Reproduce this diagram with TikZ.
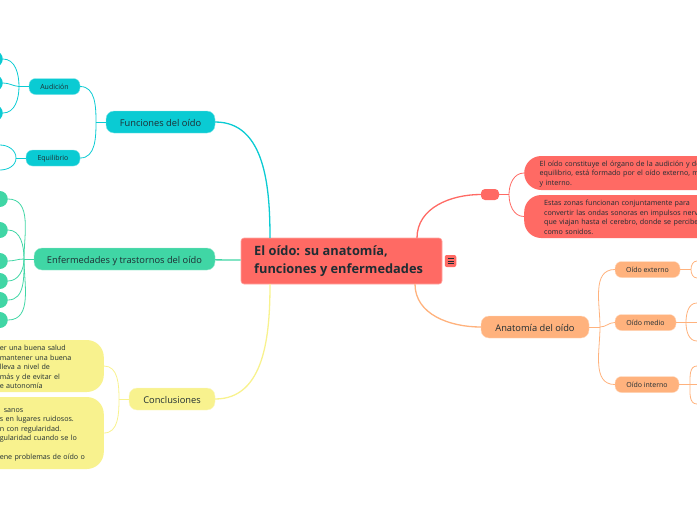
\documentclass[tikz,border=0pt]{standalone}
\usepackage{fontspec}
\setmainfont{Open Sans}
\definecolor{inkc}{HTML}{1F2D33}
\definecolor{redc}{HTML}{FF6A64}
\definecolor{tealc}{HTML}{0ACBD3}
\definecolor{mintc}{HTML}{40D6A5}
\definecolor{yelc}{HTML}{F8F28E}
\definecolor{orac}{HTML}{FFB27D}
\begin{document}
\begin{tikzpicture}[x=1pt,y=-1pt,auto,
    topic/.style={rounded corners=8pt,inner sep=0pt,minimum height=22pt,text height=10pt,text depth=1.5pt,text=inkc,font=\fontsize{9.3}{12}\selectfont},
    sub/.style={rounded corners=6.5pt,inner sep=0pt,minimum height=16pt,text height=6pt,text depth=.5pt,text=inkc,font=\fontsize{7}{9}\selectfont},
    stub/.style={rounded corners=8pt,minimum width=30pt,minimum height=16pt,inner sep=0pt,anchor=east},
    note/.style={rounded corners=17pt,inner ysep=0pt,text=inkc,align=left,font=\fontsize{7.15}{9.5}\selectfont},
    thick link/.style={line width=1.3pt},
    thin link/.style={line width=0.8pt}]
  \clip (0,0) rectangle (697,520);
  % central topic
  \node[fill=redc,draw=redc!60!white,line width=.6pt,rounded corners=3pt,minimum width=201pt,minimum height=46pt,inner sep=0pt] (root) at (341.5,261) {};
  \node[anchor=west,align=left,inner sep=0pt,text=inkc,font=\bfseries\fontsize{12.8}{18.5}\selectfont] (title) at (254,261) {El oído: su anatomía,\\funciones y enfermedades};
  \node[fill=redc,rounded corners=2pt,minimum width=11.5pt,minimum height=12pt,inner sep=0pt] (menu) at (450.5,261) {};
  \foreach \y in {258.5,261,263.5}
    \draw[inkc,line width=.8pt] (447.5,\y) -- (453.5,\y);
  \coordinate (rootfun) at (270,238);
  \coordinate (rootcon) at (270,284);
  \coordinate (rootred) at (417,238);
  \coordinate (rootana) at (415,284);

  % left, first branch
  \node[topic,fill=tealc,draw=tealc!50!white,minimum width=109pt] (fun) at (160.5,122) {Funciones del oído};
  \node[sub,fill=tealc,draw=tealc!50!white,minimum width=51pt] (aud) at (54.5,86.5) {Audición};
  \node[sub,fill=tealc,draw=tealc!50!white,minimum width=54pt] (equ) at (53,158) {Equilibrio};
  \node[stub,fill=tealc] (aud1) at (3,59) {};
  \node[stub,fill=tealc] (aud2) at (3,83) {};
  \node[stub,fill=tealc] (aud3) at (3,113) {};
  \coordinate (equ1) at (0,145);
  \coordinate (equ2) at (0,170);
  \coordinate (funj) at (96,122);
  \coordinate (audj) at (19,86.5);
  \coordinate (equj) at (16,158);
  \path[tealc,draw,thick link] (fun) edge[out=0,in=90] (rootfun);
  \path[tealc,draw,thin link]
    (fun) edge (funj)
    (funj) edge[out=90,in=0] (aud)
    (funj) edge[out=-90,in=0] (equ)
    (aud) edge (audj)
    (audj) edge[out=90,in=0] (aud1)
    (audj) edge[out=175,in=0] (aud2)
    (audj) edge[out=-90,in=0] (aud3)
    (equ) edge (equj)
    (equj) edge[out=90,in=0] (equ1)
    (equj) edge[out=-90,in=0] (equ2);

  % left, second branch
  \node[topic,fill=mintc,draw=mintc!50!white,minimum width=181pt] (enf) at (124.5,259) {Enfermedades y trastornos del oído};
  \node[stub,fill=mintc] (enf1) at (8,199) {};
  \node[stub,fill=mintc] (enf2) at (8,230) {};
  \node[stub,fill=mintc] (enf3) at (8,261) {};
  \node[stub,fill=mintc] (enf4) at (8,281) {};
  \node[stub,fill=mintc] (enf5) at (8,300) {};
  \node[stub,fill=mintc] (enf6) at (8,320) {};
  \coordinate (enfj) at (24,259);
  \path[mintc,draw,thick link] (enf) edge (root);
  \path[mintc,draw,thin link]
    (enf) edge (enfj)
    (enfj) edge[out=90,in=0] (enf1)
    (enfj) edge[out=90,in=0] (enf2)
    (enfj) edge[out=180,in=0] (enf3)
    (enfj) edge[out=-90,in=0] (enf4)
    (enfj) edge[out=-90,in=0] (enf5)
    (enfj) edge[out=-90,in=0] (enf6);

  % left, third branch
  \node[topic,fill=yelc,draw=yelc!50!white,minimum width=86pt] (con) at (172,399) {Conclusiones};
  \node[note,fill=yelc,anchor=east,inner xsep=6pt,text width=160pt,minimum height=52pt] (con1) at (104,366) {%
    \rule{0pt}{7.5pt}\hspace*{62pt}er una buena salud\\
    \hspace*{62pt}mantener una buena\\
    \hspace*{62pt}lleva a nivel de\\
    \hspace*{62pt}más y de evitar el\\
    \hspace*{62pt}e autonomía};
  \node[note,fill=yelc,anchor=east,inner xsep=6pt,text width=160pt,minimum height=72pt] (con2) at (104,433) {%
    \rule{0pt}{7.5pt}\hspace*{66pt}sanos\\
    \hspace*{62pt}s en lugares ruidosos.\\
    \hspace*{62pt}n con regularidad.\\
    \hspace*{62pt}gularidad cuando se lo\\[9.5pt]
    \hspace*{62pt}ene problemas de oído o};
  \coordinate (conj) at (119,399);
  \path[yelc,draw,thick link] (con) edge[out=0,in=-90] (rootcon);
  \path[yelc,draw,thin link]
    (con) edge (conj)
    (conj) edge[out=90,in=0] (con1)
    (conj) edge[out=-90,in=0] (con2);

  % right, first branch
  \node[fill=redc,rounded corners=4pt,minimum width=18pt,minimum height=11pt,inner sep=0pt] (red) at (490,194.5) {};
  \node[note,fill=redc,anchor=west,inner xsep=15.5pt,text width=300pt,minimum height=34pt] (red1) at (524,173) {%
    \rule{0pt}{7.5pt}El oído constituye el órgano de la audición y de\\
    equilibrio, está formado por el oído externo, m\\
    y interno.};
  \node[note,fill=redc,anchor=west,inner xsep=20pt,text width=300pt,minimum height=43pt] (red2) at (524,216.5) {%
    \rule{0pt}{7.5pt}Estas zonas funcionan conjuntamente para\\
    convertir las ondas sonoras en impulsos nerv\\
    que viajan hasta el cerebro, donde se percibe\\
    como sonidos.};
  \coordinate (redj) at (509,194.5);
  \path[redc,draw,thick link] (rootred) edge[out=90,in=180] (red);
  \path[redc,draw,thin link]
    (red) edge (redj)
    (redj) edge[out=90,in=180] (red1)
    (redj) edge[out=-90,in=180] (red2);

  % right, second branch
  \node[topic,fill=orac,draw=orac!50!white,minimum width=108pt] (ana) at (535,327) {Anatomía del oído};
  \node[sub,fill=orac,draw=orac!50!white,minimum width=65pt] (ext) at (647.5,269.5) {Oído externo};
  \node[sub,fill=orac,draw=orac!50!white,minimum width=61pt] (med) at (645.5,322.5) {Oído medio};
  \node[sub,fill=orac,draw=orac!50!white,minimum width=64pt] (int) at (647,384.5) {Oído interno};
  \coordinate (anaj) at (600,327);
  \coordinate (extj) at (691,269.5);
  \coordinate (medj) at (686,322.5);
  \coordinate (intj) at (690,384.5);
  \coordinate (ext1) at (697,261);
  \coordinate (ext2) at (697,278);
  \coordinate (med1) at (697,303);
  \coordinate (med2) at (697,322.5);
  \coordinate (med3) at (697,341);
  \coordinate (int1) at (697,366);
  \coordinate (int2) at (697,384.5);
  \coordinate (int3) at (697,404);
  \path[orac,draw,thick link] (rootana) edge[out=-90,in=180] (ana);
  \path[orac,draw,thin link]
    (ana) edge (anaj)
    (anaj) edge[out=90,in=180] (ext)
    (anaj) edge[out=0,in=180] (med)
    (anaj) edge[out=-90,in=180] (int)
    (ext) edge (extj)
    (med) edge (med2)
    (int) edge (int2)
    (extj) edge[out=90,in=180] (ext1)
    (extj) edge[out=-90,in=180] (ext2)
    (medj) edge[out=90,in=180] (med1)
    (medj) edge[out=-90,in=180] (med3)
    (intj) edge[out=90,in=180] (int1)
    (intj) edge[out=-90,in=180] (int3);
\end{tikzpicture}
\end{document}
